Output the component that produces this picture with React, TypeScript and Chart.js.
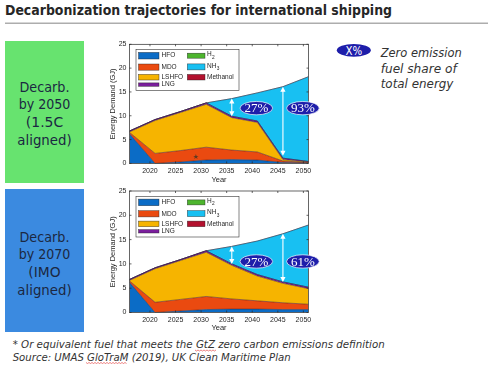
import React, { useEffect, useRef } from "react";
import { Chart, registerables } from "chart.js";
Chart.register(...registerables);

// ---------- data ----------
const years = [2016, 2021, 2026, 2031, 2036, 2041, 2046, 2051];
const xTicks = [2020, 2025, 2030, 2035, 2040, 2045, 2050];
const yTicks = [0, 5, 10, 15, 20, 25];
const fuels = ["HFO", "MDO", "LSHFO", "LNG", "H2", "NH3", "Methanol"];
const fuelColors = ["#0b6cc6", "#ea4a10", "#f6b400", "#7a1e9c", "#4db52e", "#18c0f2", "#b3112e"];

// Scenario A: Decarb. by 2050 (1.5C aligned)
const hfoA = [6.2, 0.0, 0.3, 0.7, 0.8, 0.7, 0.2, 0.1];
const mdoA = [0.3, 2.1, 2.4, 2.7, 2.0, 1.7, 0.3, 0.1];
const lshfoA = [0.1, 6.9, 8.0, 9.0, 6.8, 6.2, 0.3, 0.1];
const lngA = [0.2, 0.2, 0.2, 0.3, 0.3, 0.3, 0.3, 0.1];
const h2A = [0, 0, 0, 0, 0, 0, 0, 0];
const nh3A = [0, 0, 0, 0, 3.7, 5.9, 15.0, 17.8];
const methA = [0, 0, 0, 0, 0, 0, 0, 0];

// Scenario B: Decarb. by 2070 (IMO aligned)
const hfoB = [6.2, 0.0, 0.3, 0.6, 0.7, 0.7, 0.6, 0.6];
const mdoB = [0.3, 2.1, 2.4, 2.7, 2.1, 1.7, 1.4, 1.1];
const lshfoB = [0.1, 6.9, 8.0, 9.1, 6.9, 5.1, 4.0, 3.2];
const lngB = [0.2, 0.2, 0.2, 0.3, 0.3, 0.3, 0.3, 0.3];
const h2B = [0, 0, 0, 0, 0, 0, 0, 0];
const nh3B = [0, 0, 0, 0, 3.6, 6.9, 9.9, 12.8];
const methB = [0, 0, 0, 0, 0, 0, 0, 0];

// annotations (data units)
const arrowsA = [
  { x: 2036, y1: 13.6, y2: 9.9 },
  { x: 2046, y1: 16.1, y2: 1.6 },
];
const badgesA = [
  { text: "27%", x: 2040.8, y: 11.6 },
  { text: "93%", x: 2049.9, y: 11.6 },
];
const arrowsB = [
  { x: 2036, y1: 13.6, y2: 10.0 },
  { x: 2046, y1: 16.2, y2: 6.3 },
];
const badgesB = [
  { text: "27%", x: 2040.8, y: 10.5 },
  { text: "61%", x: 2049.9, y: 10.5 },
];

const SANS = '"Liberation Sans", Arial, sans-serif';

type Props = {
  top: number;
  height: number;
  plotTop: number;
  plotBottom: number;
  series: number[][];
  arrows: { x: number; y1: number; y2: number }[];
  badges: { text: string; x: number; y: number }[];
  star: boolean;
  titlePadBottom: number;
};

function drawSub(ctx: CanvasRenderingContext2D, base: string, sub: string, x: number, y: number) {
  ctx.font = `6.5px ${SANS}`;
  ctx.fillText(base, x, y);
  const w = ctx.measureText(base).width;
  ctx.font = `4.8px ${SANS}`;
  ctx.fillText(sub, x + w + 0.3, y + 2.6);
}

function AreaChart(p: Props) {
  const ref = useRef<HTMLCanvasElement>(null);
  useEffect(() => {
    const W = 235;
    const canvasLeft = 90;
    const plotLeft = 129.5 - canvasLeft;
    const plotRight = 308.5 - canvasLeft;
    const plotTopOff = p.plotTop - p.top;
    const xAxisH = p.top + p.height - p.plotBottom;

    const datasets = p.series.map((vals, i) => ({
      label: fuels[i],
      data: years.map((x, j) => ({ x, y: vals[j] })),
      backgroundColor: fuelColors[i],
      borderColor: "rgba(35,25,45,0.75)",
      borderWidth: 0.6,
      fill: i === 0 ? "origin" : "-1",
      pointRadius: 0,
      tension: 0,
    }));

    const overlay = {
      id: "overlay",
      afterDraw(chart: any) {
        const { ctx, chartArea: a } = chart;
        const xs = chart.scales.x;
        const ys = chart.scales.y;
        ctx.save();
        // box
        ctx.strokeStyle = "#262626";
        ctx.lineWidth = 0.7;
        ctx.strokeRect(a.left, a.top, a.right - a.left, a.bottom - a.top);
        // inward ticks
        ctx.beginPath();
        for (const t of xTicks) {
          const px = xs.getPixelForValue(t);
          ctx.moveTo(px, a.bottom);
          ctx.lineTo(px, a.bottom - 2);
          ctx.moveTo(px, a.top);
          ctx.lineTo(px, a.top + 2);
        }
        for (const t of yTicks) {
          const py = ys.getPixelForValue(t);
          ctx.moveTo(a.left, py);
          ctx.lineTo(a.left + 2, py);
          ctx.moveTo(a.right, py);
          ctx.lineTo(a.right - 2, py);
        }
        ctx.stroke();

        // arrows
        ctx.strokeStyle = "#ffffff";
        ctx.fillStyle = "#ffffff";
        ctx.lineWidth = 1.1;
        for (const ar of p.arrows) {
          const px = xs.getPixelForValue(ar.x);
          const p1 = ys.getPixelForValue(ar.y1);
          const p2 = ys.getPixelForValue(ar.y2);
          ctx.beginPath();
          ctx.moveTo(px, p1 + 3);
          ctx.lineTo(px, p2 - 3);
          ctx.stroke();
          ctx.beginPath();
          ctx.moveTo(px, p1);
          ctx.lineTo(px - 2.6, p1 + 5);
          ctx.lineTo(px + 2.6, p1 + 5);
          ctx.closePath();
          ctx.fill();
          ctx.beginPath();
          ctx.moveTo(px, p2);
          ctx.lineTo(px - 2.6, p2 - 5);
          ctx.lineTo(px + 2.6, p2 - 5);
          ctx.closePath();
          ctx.fill();
        }

        // badges
        for (const b of p.badges) {
          const cx = xs.getPixelForValue(b.x);
          const cy = ys.getPixelForValue(b.y);
          ctx.beginPath();
          ctx.ellipse(cx, cy, 16.3, 6.7, 0, 0, Math.PI * 2);
          ctx.fillStyle = "#1e1eaa";
          ctx.fill();
          ctx.strokeStyle = "rgba(255,255,255,0.85)";
          ctx.lineWidth = 0.8;
          ctx.stroke();
          ctx.fillStyle = "#ffffff";
          ctx.font = '13px "Liberation Serif", serif';
          ctx.textAlign = "center";
          ctx.textBaseline = "middle";
          ctx.fillText(b.text, cx, cy + 0.8);
        }

        // star marker
        if (p.star) {
          ctx.fillStyle = "#5e3a22";
          ctx.font = '7px "DejaVu Sans", sans-serif';
          ctx.textAlign = "center";
          ctx.textBaseline = "middle";
          ctx.fillText("\u2605", xs.getPixelForValue(2029), ys.getPixelForValue(1.2));
        }

        // legend
        const lx = a.left + 6.5;
        const ly = a.top + 5.3;
        ctx.fillStyle = "#ffffff";
        ctx.fillRect(lx, ly, 103, 40.7);
        ctx.strokeStyle = "#333";
        ctx.lineWidth = 0.6;
        ctx.strokeRect(lx, ly, 103, 40.7);
        const rows = [
          { i: 0, col: 0, cy: 11.4, h: 6.6 },
          { i: 1, col: 0, cy: 22.8, h: 6.2 },
          { i: 2, col: 0, cy: 32.9, h: 5.6 },
          { i: 3, col: 0, cy: 40.3, h: 3.4 },
          { i: 4, col: 1, cy: 11.4, h: 5.0 },
          { i: 5, col: 1, cy: 22.6, h: 6.0 },
          { i: 6, col: 1, cy: 32.9, h: 5.6 },
        ];
        ctx.textAlign = "left";
        ctx.textBaseline = "middle";
        for (const r of rows) {
          const sx = a.left + (r.col === 0 ? 9 : 57.8);
          const sw = r.col === 0 ? 20.5 : 17.7;
          const tx = a.left + (r.col === 0 ? 32 : 77.5);
          const cy = a.top + r.cy;
          ctx.fillStyle = fuelColors[r.i];
          ctx.fillRect(sx, cy - r.h / 2, sw, r.h);
          ctx.strokeStyle = "rgba(30,30,30,0.8)";
          ctx.lineWidth = 0.5;
          ctx.strokeRect(sx, cy - r.h / 2, sw, r.h);
          ctx.fillStyle = "#262626";
          if (r.i === 4) drawSub(ctx, "H", "2", tx, cy - 1);
          else if (r.i === 5) drawSub(ctx, "NH", "3", tx, cy - 1);
          else {
            ctx.font = `6.5px ${SANS}`;
            ctx.fillText(fuels[r.i], tx, cy);
          }
        }
        ctx.restore();
      },
    };

    const chart = new Chart(ref.current as HTMLCanvasElement, {
      type: "line",
      data: { datasets: datasets as any },
      options: {
        animation: false,
        responsive: false,
        devicePixelRatio: 1,
        layout: { padding: { left: 0, top: plotTopOff, right: W - plotRight, bottom: 0 } },
        plugins: { legend: { display: false }, tooltip: { enabled: false } },
        scales: {
          x: {
            type: "linear",
            min: 2016,
            max: 2051,
            afterBuildTicks: (s: any) => {
              s.ticks = xTicks.map((v) => ({ value: v }));
            },
            afterFit: (s: any) => {
              s.height = xAxisH;
            },
            grid: { display: false, drawTicks: false },
            border: { display: false },
            ticks: {
              font: { family: SANS, size: 7 },
              color: "#262626",
              padding: 3.5,
              maxRotation: 0,
              autoSkip: false,
              callback: (v: any) => String(v),
            },
            title: {
              display: true,
              text: "Year",
              font: { family: SANS, size: 7.5 },
              color: "#262626",
              padding: { top: 0, bottom: p.titlePadBottom },
            },
          },
          y: {
            type: "linear",
            stacked: true,
            min: 0,
            max: 25,
            afterBuildTicks: (s: any) => {
              s.ticks = yTicks.map((v) => ({ value: v }));
            },
            afterFit: (s: any) => {
              s.width = plotLeft;
            },
            grid: { display: false, drawTicks: false },
            border: { display: false },
            ticks: {
              font: { family: SANS, size: 7 },
              color: "#262626",
              padding: 3,
              callback: (v: any) => String(v),
            },
            title: {
              display: true,
              text: "Energy Demand (GJ)",
              font: { family: SANS, size: 7.5 },
              color: "#262626",
              padding: { top: 18.8, bottom: 0 },
            },
          },
        },
      } as any,
      plugins: [overlay],
    });
    return () => chart.destroy();
  }, []);
  return (
    <canvas
      ref={ref}
      width={235}
      height={p.height}
      style={{ position: "absolute", left: 90, top: p.top, width: 235, height: p.height }}
    />
  );
}

const boxTextColor = "#1b2842";
const DJ = '"DejaVu Sans", Verdana, sans-serif';

export default function App() {
  return (
    <div style={{ position: "fixed", left: 0, top: 0, width: 495, height: 371, background: "#fff", overflow: "hidden" }}>
      <svg width={495} height={371} style={{ position: "absolute", left: 0, top: 0 }}>
        <text x={5} y={15} fontFamily={DJ} fontWeight="bold" fontSize={13.5} fill="#262626" textLength={387} lengthAdjust="spacingAndGlyphs">
          Decarbonization trajectories for international shipping
        </text>
        <line x1={5} x2={488} y1={23.3} y2={23.3} stroke="#adadad" strokeWidth={1.5} />

        <rect x={5} y={41} width={79} height={142} fill="#67e36f" />
        <g fontFamily={DJ} fontSize={14} fill={boxTextColor} textAnchor="middle">
          <text x={44.5} y={91.5} textLength={50} lengthAdjust="spacingAndGlyphs">Decarb.</text>
          <text x={44.5} y={109.2} textLength={51.7} lengthAdjust="spacingAndGlyphs">by 2050</text>
          <text x={44.5} y={126.9} textLength={37.3} lengthAdjust="spacingAndGlyphs">(1.5C</text>
          <text x={44.5} y={144.6} textLength={54.3} lengthAdjust="spacingAndGlyphs">aligned)</text>
        </g>

        <rect x={5} y={189} width={79} height={143} fill="#3b8ae0" />
        <g fontFamily={DJ} fontSize={14} fill={boxTextColor} textAnchor="middle">
          <text x={44.5} y={241.5} textLength={50} lengthAdjust="spacingAndGlyphs">Decarb.</text>
          <text x={44.5} y={259.2} textLength={51.7} lengthAdjust="spacingAndGlyphs">by 2070</text>
          <text x={44.5} y={276.9} textLength={32.3} lengthAdjust="spacingAndGlyphs">(IMO</text>
          <text x={44.5} y={294.6} textLength={54.3} lengthAdjust="spacingAndGlyphs">aligned)</text>
        </g>

        <ellipse cx={353.8} cy={50.3} rx={17} ry={6.4} fill="#1e1eaa" />
        <text x={353.8} y={54.6} textAnchor="middle" fontFamily={DJ} fontSize={12} fill="#fff" textLength={16.7} lengthAdjust="spacingAndGlyphs">X%</text>
        <g fontFamily={DJ} fontStyle="italic" fontSize={13} fill="#333">
          <text x={380.7} y={57} textLength={81} lengthAdjust="spacingAndGlyphs">Zero emission</text>
          <text x={380.7} y={72.5} textLength={76} lengthAdjust="spacingAndGlyphs">fuel share of</text>
          <text x={380.7} y={88} textLength={72.7} lengthAdjust="spacingAndGlyphs">total energy</text>
        </g>

        <g fontFamily={DJ} fontStyle="italic" fontSize={10.5} fill="#333">
          <text x={12.7} y={348.3} textLength={372} lengthAdjust="spacingAndGlyphs">
            * Or equivalent fuel that meets the GtZ zero carbon emissions definition
          </text>
          <text x={12.7} y={360.7} textLength={278} lengthAdjust="spacingAndGlyphs">
            Source: UMAS GloTraM (2019), UK Clean Maritime Plan
          </text>
        </g>
        <polyline points="195,350 196.5,351 198,350 199.5,351 201,350 202.5,351 204,350 205.5,351 207,350 208.5,351 210,350 211.5,351 213,350 214.5,351 216,350" fill="none" stroke="#e03030" strokeWidth={0.6} />
        <polyline points="86,362.5 87.5,363.5 89,362.5 90.5,363.5 92,362.5 93.5,363.5 95,362.5 96.5,363.5 98,362.5 99.5,363.5 101,362.5 102.5,363.5 104,362.5 105.5,363.5 107,362.5 108.5,363.5 110,362.5 111.5,363.5 113,362.5 114.5,363.5 116,362.5 117.5,363.5 119,362.5 120.5,363.5 122,362.5 123.5,363.5 125,362.5 126.5,363.5" fill="none" stroke="#e03030" strokeWidth={0.6} />
      </svg>

      <AreaChart
        top={30}
        height={155}
        plotTop={44.3}
        plotBottom={163.4}
        series={[hfoA, mdoA, lshfoA, lngA, h2A, nh3A, methA]}
        arrows={arrowsA}
        badges={badgesA}
        star={true}
        titlePadBottom={1}
      />
      <AreaChart
        top={183}
        height={152}
        plotTop={191}
        plotBottom={312.5}
        series={[hfoB, mdoB, lshfoB, lngB, h2B, nh3B, methB]}
        arrows={arrowsB}
        badges={badgesB}
        star={false}
        titlePadBottom={2.5}
      />
    </div>
  );
}
